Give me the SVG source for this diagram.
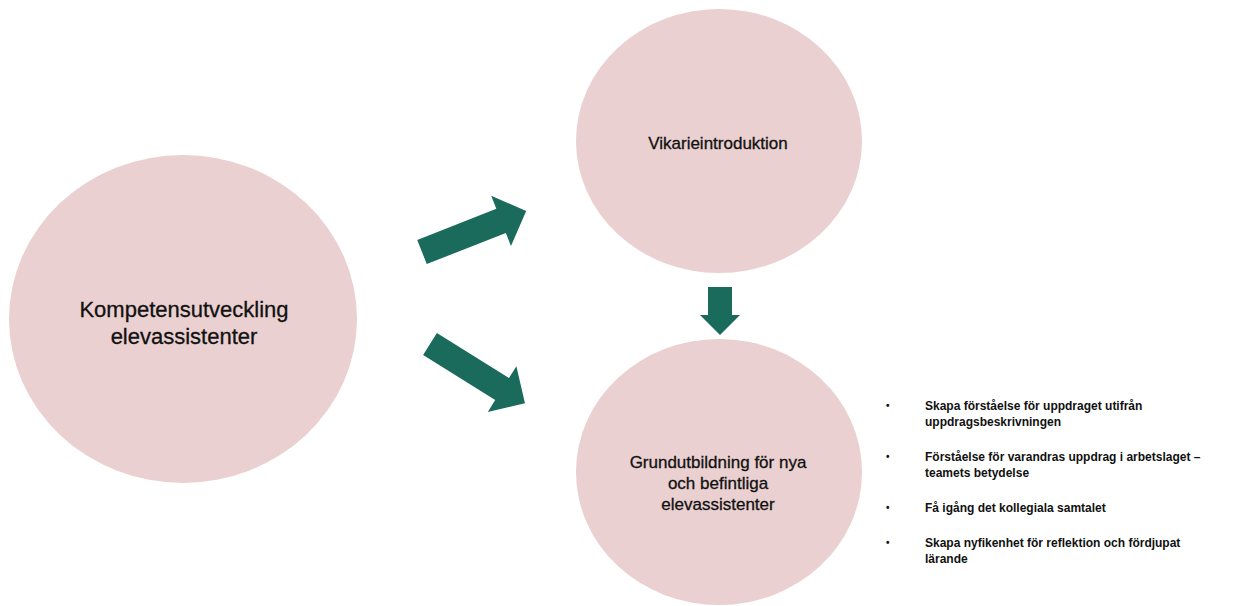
<svg xmlns="http://www.w3.org/2000/svg" width="1233" height="606" viewBox="0 0 1233 606">
  <style>
    .node { fill: #EAD0D0; }
    .arrow { fill: #1B6B5D; }
    .lbl { font-family: "Liberation Sans", Arial, sans-serif; fill: #111; stroke: #111; stroke-width: 0.3; text-anchor: middle; }
    .big { font-size: 22px; }
    .mid { font-size: 17px; }
    .list { font-family: "Liberation Sans", Arial, sans-serif; font-size: 12px; font-weight: bold; fill: #111; }
    .dot { font-size: 10px; }
  </style>
  <defs>
    <polygon id="diagArrow" points="0,-13 85,-13 85,-27 112,0 85,27 85,13 0,13"/>
  </defs>
  <rect width="1233" height="606" fill="#FFFFFF"/>

  <g id="node-kompetens">
    <ellipse class="node" cx="183" cy="319" rx="174" ry="164"/>
    <text class="lbl big" x="184" y="317">Kompetensutveckling</text>
    <text class="lbl big" x="184" y="344">elevassistenter</text>
  </g>

  <g id="node-vikarie">
    <ellipse class="node" cx="719" cy="141" rx="143" ry="132"/>
    <text class="lbl mid" x="718" y="149">Vikarieintroduktion</text>
  </g>

  <g id="node-grund">
    <ellipse class="node" cx="719" cy="472" rx="143" ry="133"/>
    <text class="lbl mid" x="718" y="468">Grundutbildning för nya</text>
    <text class="lbl mid" x="718" y="489">och befintliga</text>
    <text class="lbl mid" x="718" y="510">elevassistenter</text>
  </g>

  <g id="connectors">
    <use href="#diagArrow" class="arrow" transform="translate(422,252) rotate(-21.5)"/>
    <use href="#diagArrow" class="arrow" transform="translate(430,344) rotate(32)"/>
    <polygon class="arrow" points="708,287 732,287 732,315 740,315 720,335 700,315 708,315"/>
  </g>

  <g id="bullet-list" class="list">
    <text class="dot" x="886" y="409">•</text>
    <text x="925" y="410">Skapa förståelse för uppdraget utifrån</text>
    <text x="925" y="426">uppdragsbeskrivningen</text>
    <text class="dot" x="886" y="460">•</text>
    <text x="925" y="461">Förståelse för varandras uppdrag i arbetslaget –</text>
    <text x="925" y="477">teamets betydelse</text>
    <text class="dot" x="886" y="511">•</text>
    <text x="925" y="512">Få igång det kollegiala samtalet</text>
    <text class="dot" x="886" y="546">•</text>
    <text x="925" y="547">Skapa nyfikenhet för reflektion och fördjupat</text>
    <text x="925" y="563">lärande</text>
  </g>
</svg>
